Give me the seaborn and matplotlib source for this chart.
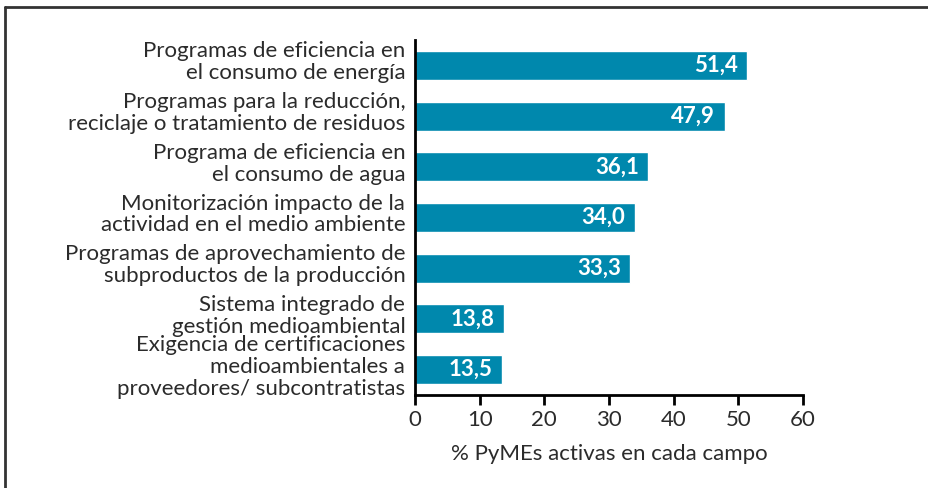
import pandas as pd
import matplotlib.pyplot as plt
import matplotlib.transforms as mtransforms
import seaborn as sns
from matplotlib.lines import Line2D

# Data
categories = [
    'Programas de eficiencia en\nel consumo de energía',
    'Programas para la reducción,\nreciclaje o tratamiento de residuos',
    'Programa de eficiencia en\nel consumo de agua',
    'Monitorización impacto de la\nactividad en el medio ambiente',
    'Programas de aprovechamiento de\nsubproductos de la producción',
    'Sistema integrado de\ngestión medioambiental',
    'Exigencia de certificaciones\nmedioambientales a\nproveedores/ subcontratistas',
]
values = [51.4, 47.9, 36.1, 34.0, 33.3, 13.8, 13.5]
x_ticks = [0, 10, 20, 30, 40, 50, 60]

df = pd.DataFrame({'campo': categories, 'pct': values})

sns.set_style('white')
plt.rcParams['font.family'] = ['Lato', 'DejaVu Sans']

text_color = '#2b2b2b'
bar_color = '#0088ad'
fs = 16

fig = plt.figure(figsize=(9.29, 4.88), dpi=100)
ax = fig.add_axes([0.4467, 0.1906, 0.4177, 0.7274])

sns.barplot(data=df, x='pct', y='campo', orient='h', color=bar_color,
            saturation=1, width=0.57, ax=ax)

ax.set_xlim(0, 60)
ax.set_ylim(6.5, -0.5)
ax.set_xticks(x_ticks)
ax.set_xticklabels([str(t) for t in x_ticks])
ax.set_xlabel('% PyMEs activas en cada campo', fontsize=fs, color=text_color, labelpad=10)
ax.set_ylabel('')

ax.tick_params(axis='x', direction='out', length=7, width=2, color='black',
               labelsize=fs, labelcolor=text_color, pad=4, bottom=True)
ax.tick_params(axis='y', length=0, labelsize=fs, labelcolor=text_color, pad=7)
# category labels sit slightly above the bar centres in the original
shift = mtransforms.ScaledTranslation(0, 0.06, fig.dpi_scale_trans)
for lbl in ax.get_yticklabels():
    lbl.set_multialignment('right')
    lbl.set_linespacing(1.12)
    lbl.set_transform(lbl.get_transform() + shift)

sns.despine(ax=ax)
for side in ['left', 'bottom']:
    ax.spines[side].set_linewidth(2)
    ax.spines[side].set_color('black')

# value labels inside bar ends
labels = [f'{v:.1f}'.replace('.', ',') for v in values]
texts = ax.bar_label(ax.containers[0], labels=labels, padding=-7,
                     color='white', fontsize=16, fontweight='bold')
for t in texts:
    t.set_ha('right')

# partial frame around the figure (top and left)
fig.add_artist(Line2D([5 / 929, 1], [1 - 7 / 488, 1 - 7 / 488],
                      transform=fig.transFigure, color='#333333', lw=2))
fig.add_artist(Line2D([5 / 929, 5 / 929], [0, 1 - 7 / 488],
                      transform=fig.transFigure, color='#333333', lw=2))

fig.savefig('out.png', dpi=100)
